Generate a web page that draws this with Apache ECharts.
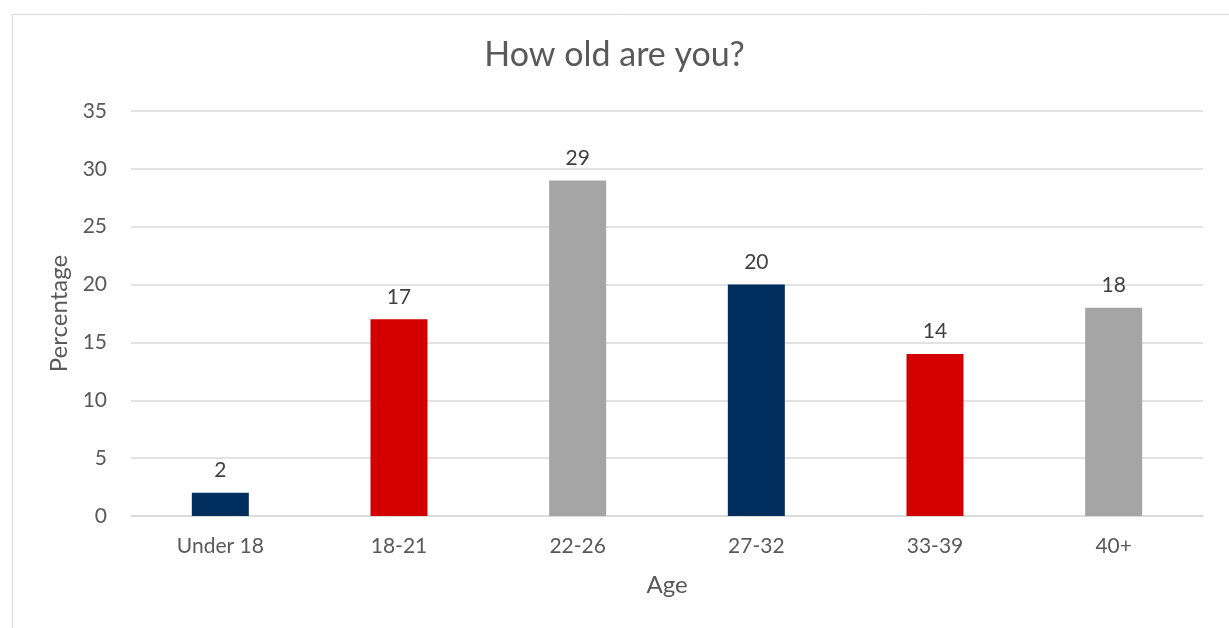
<!DOCTYPE html>
<html>
<head>
<meta charset="utf-8">
<script src="https://cdn.jsdelivr.net/npm/echarts@6/dist/echarts.min.js"></script>
<style>
  html, body { margin: 0; padding: 0; background: #ffffff; }
  #chart { width: 1229px; height: 628px; }
</style>
</head>
<body>
<div id="chart"></div>
<script>
// Survey answers: share of respondents per age group (%)
const ageGroups = ['Under 18', '18-21', '22-26', '27-32', '33-39', '40+'];
const percentages = [2, 17, 29, 20, 14, 18];
const barColors = ['#002F5F', '#D20000', '#A5A5A5', '#002F5F', '#D20000', '#A5A5A5'];

const FONT = 'Lato, "Open Sans", sans-serif';

const chart = echarts.init(document.getElementById('chart'), null, { renderer: 'canvas' });

chart.setOption({
  animation: false,
  backgroundColor: '#ffffff',
  title: {
    text: 'How old are you?',
    left: 'center',
    top: 33,
    textStyle: { fontFamily: FONT, fontSize: 34, fontWeight: 'normal', color: '#595959' }
  },
  graphic: [{
    type: 'rect',
    left: 10, top: 12,
    shape: { width: 1260, height: 660 },
    style: { fill: 'none', stroke: '#d9d9d9', lineWidth: 1 },
    silent: true
  }],
  grid: { left: 131, right: 26, top: 111, bottom: 112 },
  xAxis: {
    type: 'category',
    data: ageGroups,
    name: 'Age',
    nameLocation: 'middle',
    nameGap: 57,
    nameTextStyle: { fontFamily: FONT, fontSize: 24, color: '#595959' },
    axisLine: { show: true, lineStyle: { color: '#d9d9d9', width: 1.5 } },
    axisTick: { show: false },
    axisLabel: { fontFamily: FONT, fontSize: 21, color: '#595959', margin: 20 }
  },
  yAxis: {
    type: 'value',
    min: 0, max: 35, interval: 5,
    name: 'Percentage',
    nameLocation: 'middle',
    nameGap: 56,
    nameTextStyle: { fontFamily: FONT, fontSize: 24, color: '#595959' },
    axisLine: { show: false },
    axisTick: { show: false },
    axisLabel: { fontFamily: FONT, fontSize: 21, color: '#595959', margin: 24 },
    splitLine: { lineStyle: { color: '#d9d9d9', width: 1.5 } }
  },
  series: [{
    type: 'bar',
    barWidth: 57,
    data: percentages.map((v, i) => ({ value: v, itemStyle: { color: barColors[i] } })),
    label: {
      show: true,
      position: 'top',
      distance: 12,
      fontFamily: FONT,
      fontSize: 21,
      color: '#404040'
    }
  }]
});
</script>
</body>
</html>
